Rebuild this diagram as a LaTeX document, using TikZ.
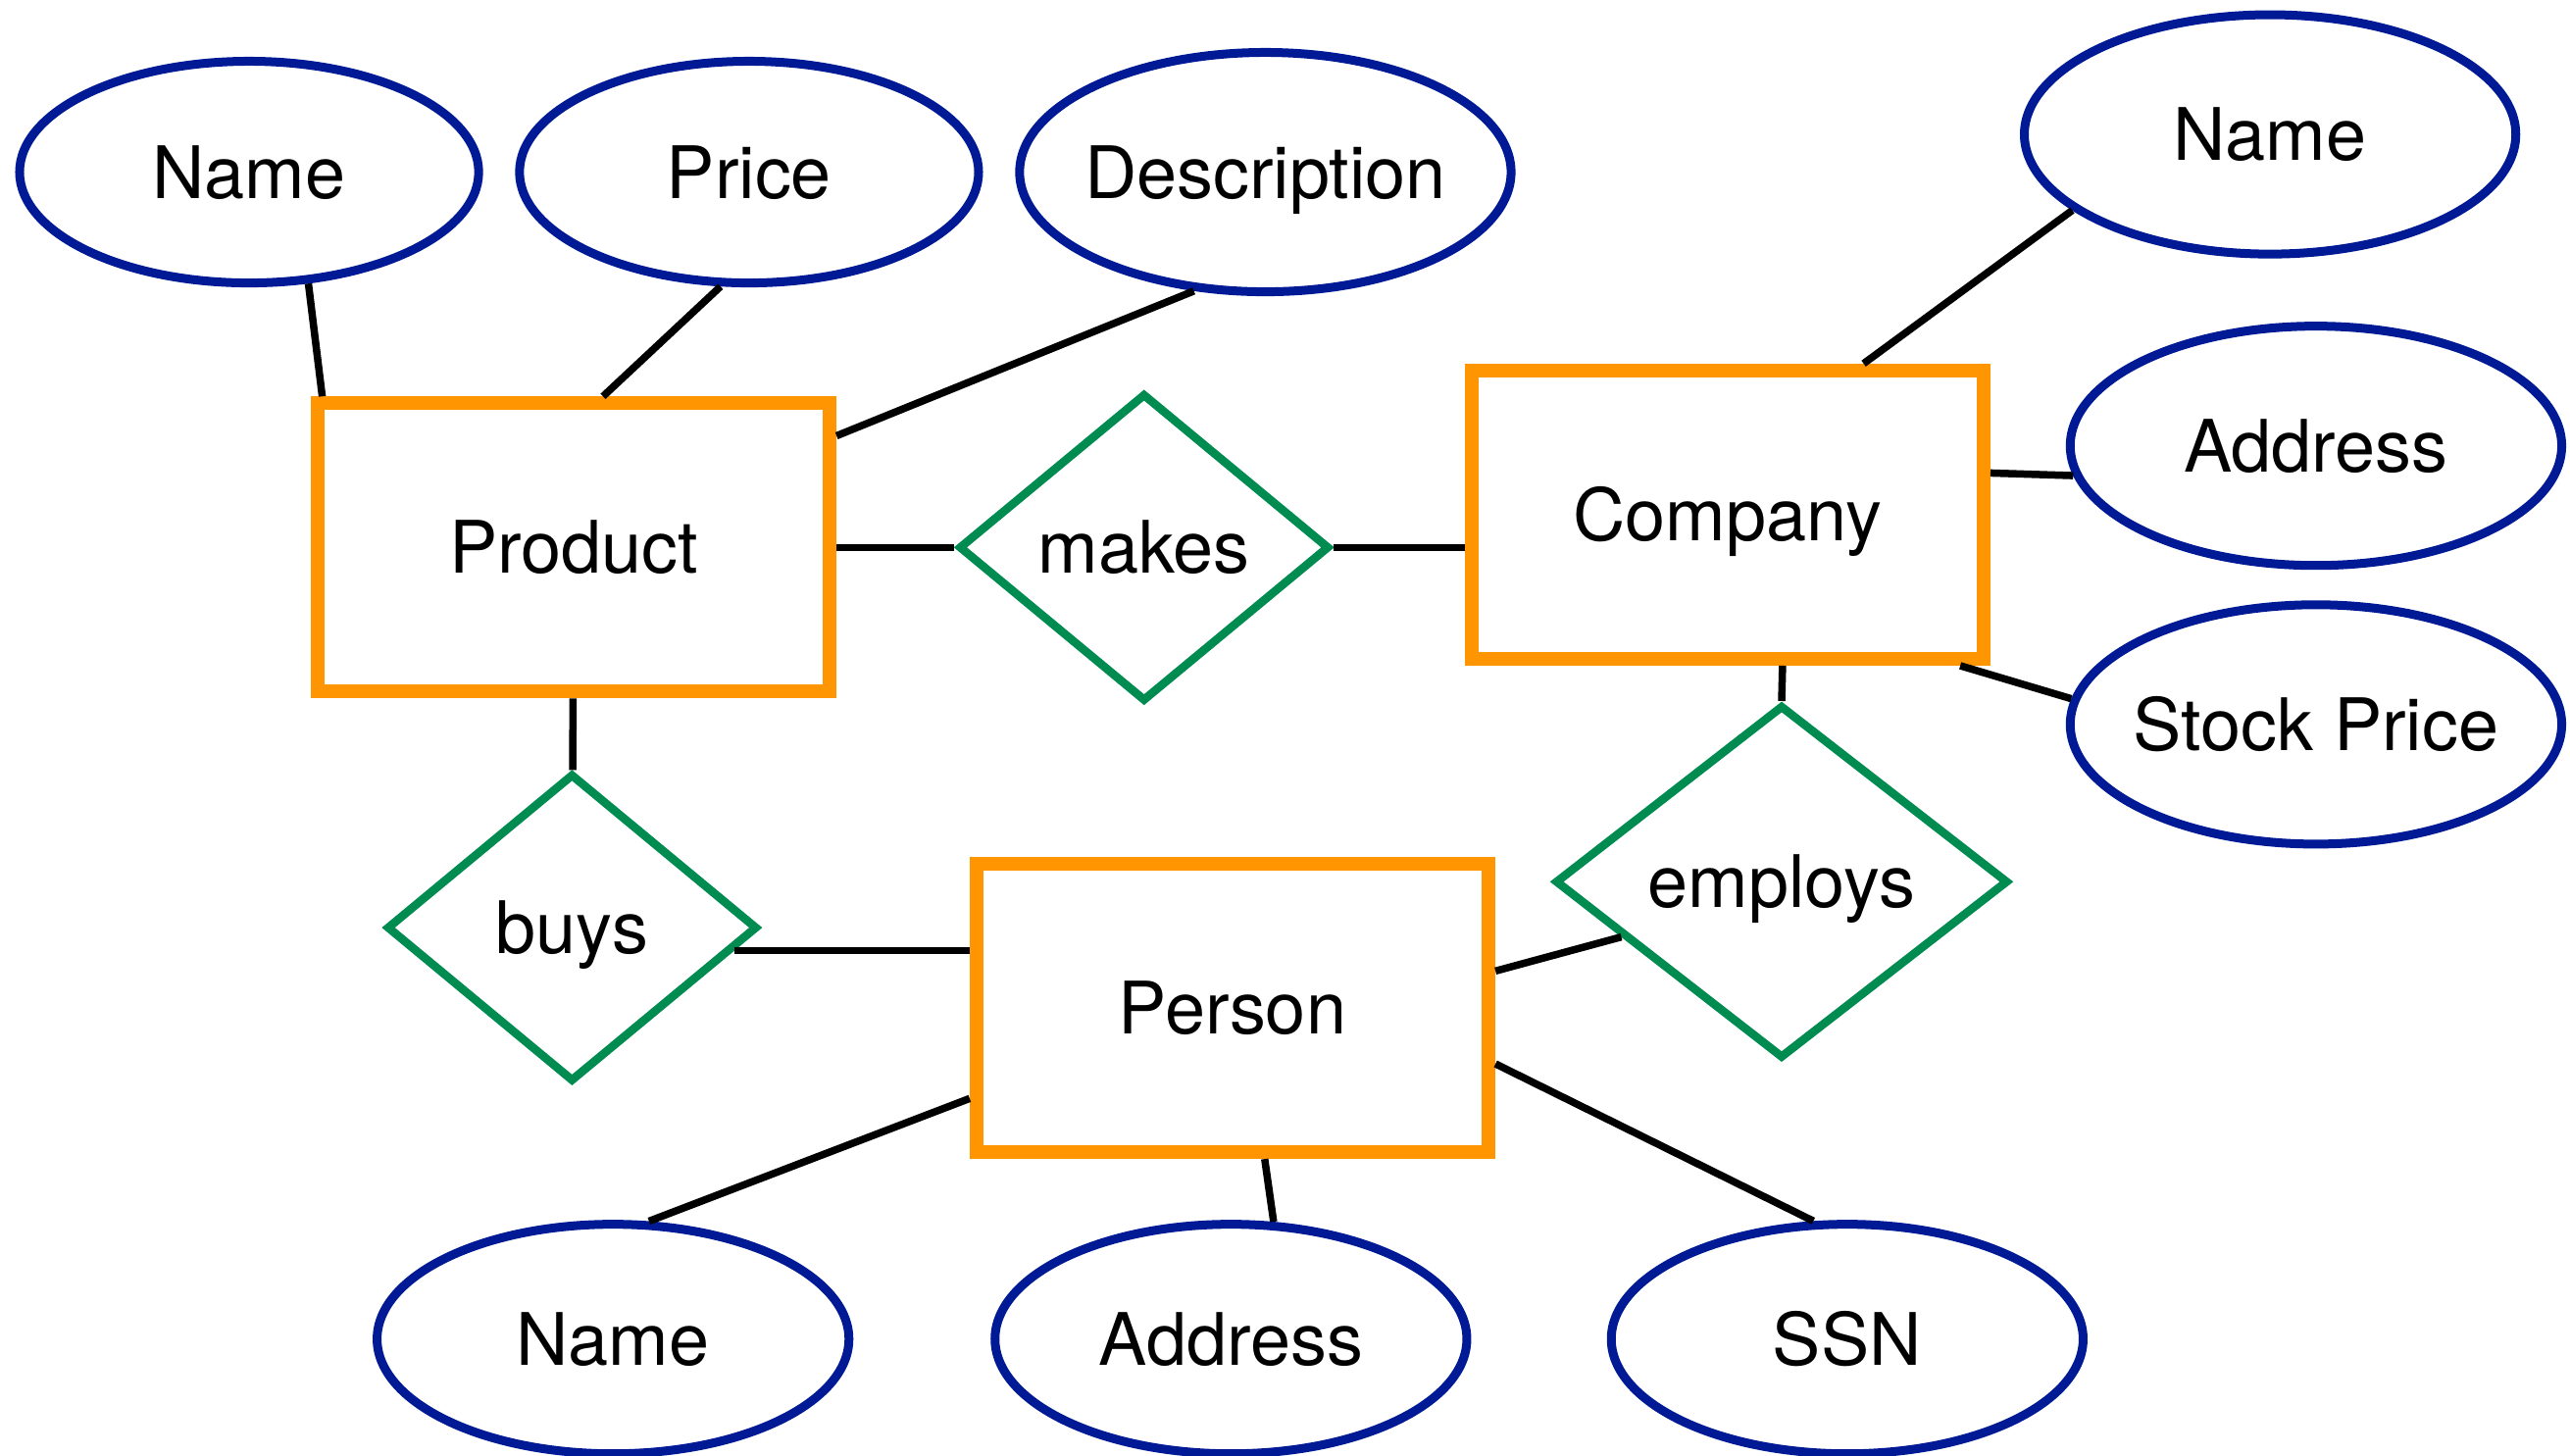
\documentclass[tikz,border=0pt]{standalone}
\usepackage{fontspec}
\setmainfont{TeX Gyre Heros}
\usetikzlibrary{shapes.geometric}
\definecolor{entorange}{RGB}{255,149,0}
\definecolor{attrblue}{RGB}{0,26,150}
\definecolor{relgreen}{RGB}{0,140,80}
\begin{document}
\begin{tikzpicture}[x=0.016716cm,y=-0.016716cm,font=\fontsize{21}{25}\selectfont,
		every node/.style={text height=15.1pt,text depth=0pt,inner sep=0pt},
		entity/.style={rectangle,draw=entorange,line width=0.14cm,fill=white,minimum width=5.22cm,minimum height=2.94cm},
		relation/.style={diamond,draw=relgreen,line width=0.085cm,fill=white,minimum width=3.78cm,minimum height=3.14cm},
		attrib/.style={ellipse,draw=attrblue,line width=0.09cm,fill=white,minimum width=4.68cm,minimum height=2.26cm,
			execute at begin node={\hbox to 0pt\bgroup\hss},execute at end node={\hss\egroup}},
		wideattrib/.style={attrib,minimum width=5.01cm,minimum height=2.44cm},
		lowattrib/.style={attrib,minimum width=4.81cm,minimum height=2.34cm},
		link/.style={line width=0.075cm}]
	\useasboundingbox (0,0) rectangle (1568,888);
	\node[entity] (product) at (350,334) {Product};
	\node[entity] (company) at (1054,314) {Company};
	\node[entity] (person) at (752,615) {Person};
	\node[relation] (makes) at (698,334) {makes};
	\node[relation] (buys) at (349,566) {buys};
	\node[relation,minimum width=4.62cm,minimum height=3.6cm] (employs) at (1087,538) {employs};
	\node[attrib] (pname) at (152,105) {Name};
	\node[attrib] (pprice) at (457,105) {Price};
	\node[wideattrib] (pdesc) at (772,105) {Description};
	\node[wideattrib] (cname) at (1385,82) {Name};
	\node[wideattrib] (caddr) at (1413,272) {Address};
	\node[wideattrib] (cstock) at (1413,442) {Stock Price};
	\node[lowattrib] (nname) at (374,817) {Name};
	\node[lowattrib] (naddr) at (751,817) {Address};
	\node[lowattrib] (nssn) at (1127,817) {SSN};
	\draw[link] (pname.-62) -- (product.149);
	\draw[link] (pprice.-104) -- (product.79);
	\draw[link] (pdesc.-121) -- (product.23);
	\draw[link] (product) -- (makes);
	\draw[link] (makes.east) -- (makes.east -| company.west);
	\draw[link] (company.48) -- (cname.-159);
	\draw[link] (company.9.5) -- (caddr.-173.5);
	\draw[link] (company.-33.3) -- (cstock.174.6);
	\draw[link] (company.-70) -- (employs.north);
	\draw[link] (employs.-161.2) -- (person.8.7);
	\draw[link] (product) -- (buys);
	\draw[link] (buys.-8.9) -- (buys.-8.9 -| person.west);
	\draw[link] (person.-161.6) -- (nname.73.8);
	\draw[link] (person.-78.4) -- (naddr.70.8);
	\draw[link] (person.-12.3) -- (nssn.106.2);
\end{tikzpicture}
\end{document}
